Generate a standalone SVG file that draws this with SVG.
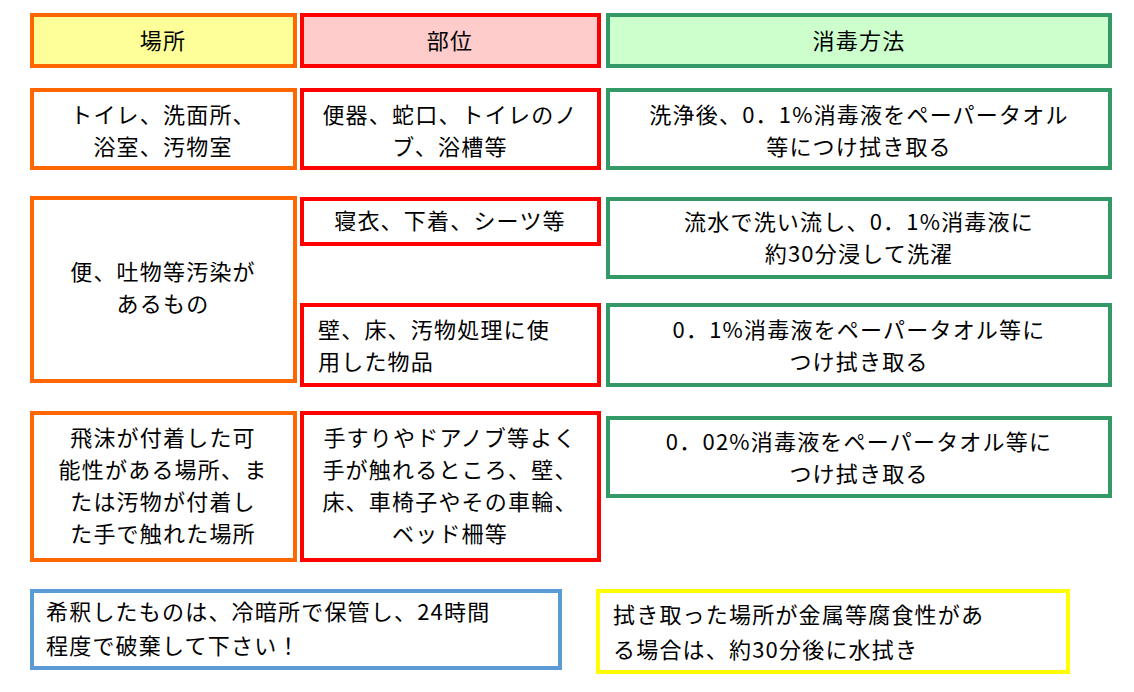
<svg xmlns="http://www.w3.org/2000/svg" width="1134" height="692" viewBox="0 0 1134 692">
<style>
rect{stroke-width:4}
.o{stroke:#FF6600;fill:#fff}
.r{stroke:#FF0000;fill:#fff}
.g{stroke:#339966;fill:#fff}
text{font-family:"Noto Sans CJK JP","Liberation Sans",sans-serif;font-size:22px;fill:#000;letter-spacing:1.2px}
.c{text-anchor:middle}
</style>
<rect width="1134" height="692" fill="#fff"/>
<g id="h1"><rect class="o" x="32" y="15" width="263" height="51" style="fill:#FFFF99"/><text class="c" x="163" y="49">場所</text></g>
<g id="h2"><rect class="r" x="302" y="15" width="297" height="51" style="fill:#FFCCCC"/><text class="c" x="450" y="49">部位</text></g>
<g id="h3"><rect class="g" x="608" y="15" width="502" height="51" style="fill:#CCFFCC"/><text class="c" x="859" y="49">消毒方法</text></g>

<g id="a1"><rect class="o" x="32" y="90" width="263" height="78"/><text class="c" x="163" y="123">トイレ、洗面所、</text><text class="c" x="163" y="155">浴室、汚物室</text></g>
<g id="b1"><rect class="r" x="302" y="90" width="297" height="78"/><text class="c" x="450" y="123">便器、蛇口、トイレのノ</text><text class="c" x="450" y="155">ブ、浴槽等</text></g>
<g id="c1"><rect class="g" x="608" y="90" width="502" height="78"/><text class="c" x="859" y="123">洗浄後、0．1%消毒液をペーパータオル</text><text class="c" x="859" y="155">等につけ拭き取る</text></g>

<g id="a2"><rect class="o" x="32" y="198" width="263" height="183"/><text class="c" x="163" y="280">便、吐物等汚染が</text><text class="c" x="163" y="312">あるもの</text></g>
<g id="b2"><rect class="r" x="302" y="199" width="297" height="45"/><text class="c" x="450" y="229">寝衣、下着、シーツ等</text></g>
<g id="c2"><rect class="g" x="608" y="199" width="502" height="78"/><text class="c" x="859" y="230">流水で洗い流し、0．1%消毒液に</text><text class="c" x="859" y="262">約30分浸して洗濯</text></g>
<g id="b3"><rect class="r" x="302" y="305" width="297" height="80"/><text x="318" y="338">壁、床、汚物処理に使</text><text x="318" y="370">用した物品</text></g>
<g id="c3"><rect class="g" x="608" y="305" width="502" height="80"/><text class="c" x="859" y="338">0．1%消毒液をペーパータオル等に</text><text class="c" x="859" y="370">つけ拭き取る</text></g>

<g id="a4"><rect class="o" x="32" y="413" width="263" height="147"/><text class="c" x="163" y="446">飛沫が付着した可</text><text class="c" x="163" y="478">能性がある場所、ま</text><text class="c" x="163" y="510">たは汚物が付着し</text><text class="c" x="163" y="542">た手で触れた場所</text></g>
<g id="b4"><rect class="r" x="302" y="413" width="297" height="147"/><text class="c" x="450" y="446">手すりやドアノブ等よく</text><text class="c" x="450" y="478">手が触れるところ、壁、</text><text class="c" x="450" y="510">床、車椅子やその車輪、</text><text class="c" x="450" y="542">ベッド柵等</text></g>
<g id="c4"><rect class="g" x="608" y="418" width="502" height="78"/><text class="c" x="859" y="450">0．02%消毒液をペーパータオル等に</text><text class="c" x="859" y="482">つけ拭き取る</text></g>

<g id="n1"><rect x="32" y="591" width="528" height="77" fill="#fff" stroke="#5B9BD5"/><text x="46" y="620">希釈したものは、冷暗所で保管し、24時間</text><text x="46" y="654">程度で破棄して下さい！</text></g>
<g id="n2"><rect x="598" y="591" width="470" height="81" fill="#fff" stroke="#FFFF00"/><text x="613" y="623">拭き取った場所が金属等腐食性があ</text><text x="613" y="658">る場合は、約30分後に水拭き</text></g>
<g id="connectors"/>
</svg>
